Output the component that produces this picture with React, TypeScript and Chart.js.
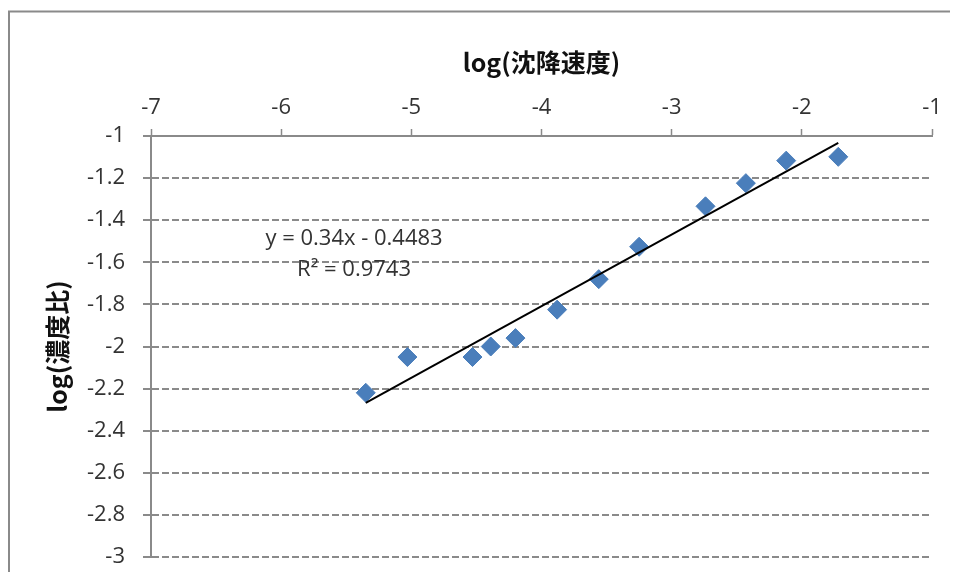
import React, { useEffect, useRef } from "react";
import { Chart, registerables } from "chart.js";

Chart.register(...registerables);

// Data
const xValues = [-5.35, -5.03, -4.53, -4.39, -4.2, -3.88, -3.56, -3.25, -2.74, -2.43, -2.12, -1.72];
const yValues = [-2.22, -2.05, -2.05, -2.0, -1.96, -1.825, -1.68, -1.526, -1.334, -1.224, -1.117, -1.099];

// Linear trendline shown in the chart
const trendSlope = 0.34;
const trendIntercept = -0.4483;
const trendR2 = 0.9743;

const xTitle = "log(沈降速度)";
const yTitle = "log(濃度比)";

// Axis ranges
const xRange = [-7, -1];
const yRange = [-3, -1];

// Anchor of the trendline label (in data units)
const eqAnchor = { x: -5.44, y1: -1.49, y2: -1.635 };

const GRAY = "#8a8a8a";
const TEXT = "#333333";

export default function App() {
  const ref = useRef<HTMLCanvasElement | null>(null);

  useEffect(() => {
    if (!ref.current) return;
    document.body.style.overflow = "hidden";
    const xMin = Math.min(...xValues);
    const xMax = Math.max(...xValues);
    const trendData = [xMin, xMax].map((x) => ({ x, y: trendSlope * x + trendIntercept }));
    const points = xValues.map((x, i) => ({ x, y: yValues[i] }));

    const framePlugin = {
      id: "frame",
      beforeDraw(chart: any) {
        const ctx = chart.ctx;
        ctx.save();
        ctx.fillStyle = "#ffffff";
        ctx.fillRect(0, 0, chart.width, chart.height);
        ctx.strokeStyle = GRAY;
        ctx.lineWidth = 2;
        ctx.beginPath();
        ctx.moveTo(1, chart.height);
        ctx.lineTo(1, 3.5);
        ctx.lineTo(chart.width, 3.5);
        ctx.stroke();
        ctx.restore();
      },
    };

    const eqPlugin = {
      id: "eqLabel",
      afterDatasetsDraw(chart: any) {
        const ctx = chart.ctx;
        const xs = chart.scales.x;
        const ys = chart.scales.y;
        const px = xs.getPixelForValue(eqAnchor.x);
        const sign = trendIntercept < 0 ? "-" : "+";
        const line1 = `y = ${trendSlope}x ${sign} ${Math.abs(trendIntercept)}`;
        const line2 = `R² = ${trendR2}`;
        ctx.save();
        ctx.font = '22px "Open Sans"';
        ctx.fillStyle = TEXT;
        ctx.textAlign = "center";
        ctx.textBaseline = "middle";
        ctx.fillText(line1, px, ys.getPixelForValue(eqAnchor.y1));
        ctx.fillText(line2, px, ys.getPixelForValue(eqAnchor.y2));
        ctx.restore();
      },
    };

    const chart = new Chart(ref.current, {
      type: "scatter",
      data: {
        datasets: [
          {
            type: "line",
            label: "trend",
            data: trendData,
            borderColor: "#000000",
            borderWidth: 2,
            pointRadius: 0,
            fill: false,
            order: 0,
          } as any,
          {
            label: "data",
            data: points,
            backgroundColor: "#4A7EBB",
            borderColor: "#4A7EBB",
            borderWidth: 1,
            pointStyle: "rectRot",
            pointRadius: 9.5,
            order: 1,
          },
        ],
      },
      options: {
        responsive: false,
        animation: false,
        devicePixelRatio: 1,
        layout: { padding: { left: 0, top: 0, right: 26, bottom: 15 } },
        plugins: {
          legend: { display: false },
          tooltip: { enabled: false },
        },
        scales: {
          x: {
            type: "linear",
            position: "top",
            min: xRange[0],
            max: xRange[1],
            ticks: {
              stepSize: 1,
              color: TEXT,
              font: { family: '"Open Sans"', size: 22 },
              padding: 8,
            },
            grid: {
              drawOnChartArea: false,
              drawTicks: true,
              tickLength: 7,
              tickColor: GRAY,
              tickWidth: 1.5,
              color: GRAY,
            },
            border: { display: true, color: GRAY, width: 2 },
            title: {
              display: true,
              text: xTitle,
              color: "#111111",
              font: { family: '"Noto Sans CJK JP"', size: 25, weight: "bold" },
              padding: { top: 39, bottom: 0 },
            },
            afterFit(scale: any) {
              scale.height = 128;
              scale.paddingLeft = 0;
              scale.paddingRight = 0;
            },
          },
          y: {
            type: "linear",
            min: yRange[0],
            max: yRange[1],
            ticks: {
              stepSize: 0.2,
              color: TEXT,
              font: { family: '"Open Sans"', size: 22 },
              padding: 18,
              callback: (v: any) => String(Math.round(Number(v) * 10) / 10),
            },
            grid: {
              drawOnChartArea: true,
              drawTicks: true,
              tickLength: 8,
              tickColor: GRAY,
              tickWidth: 2,
              color: GRAY,
              lineWidth: 2,
            },
            border: { display: true, color: GRAY, width: 2, dash: [7, 3] },
            title: {
              display: true,
              text: yTitle,
              color: "#111111",
              font: { family: '"Noto Sans CJK JP"', size: 25, weight: "bold" },
              padding: { top: 34, bottom: 0 },
            },
            afterFit(scale: any) {
              scale.width = 143;
              scale.paddingTop = 0;
              scale.paddingBottom = 0;
            },
          },
        },
      },
      plugins: [framePlugin, eqPlugin],
    } as any);

    return () => chart.destroy();
  }, []);

  return (
    <div style={{ width: 950, height: 564 }}>
      <canvas ref={ref} width={950} height={564} style={{ display: "block" }} />
    </div>
  );
}
